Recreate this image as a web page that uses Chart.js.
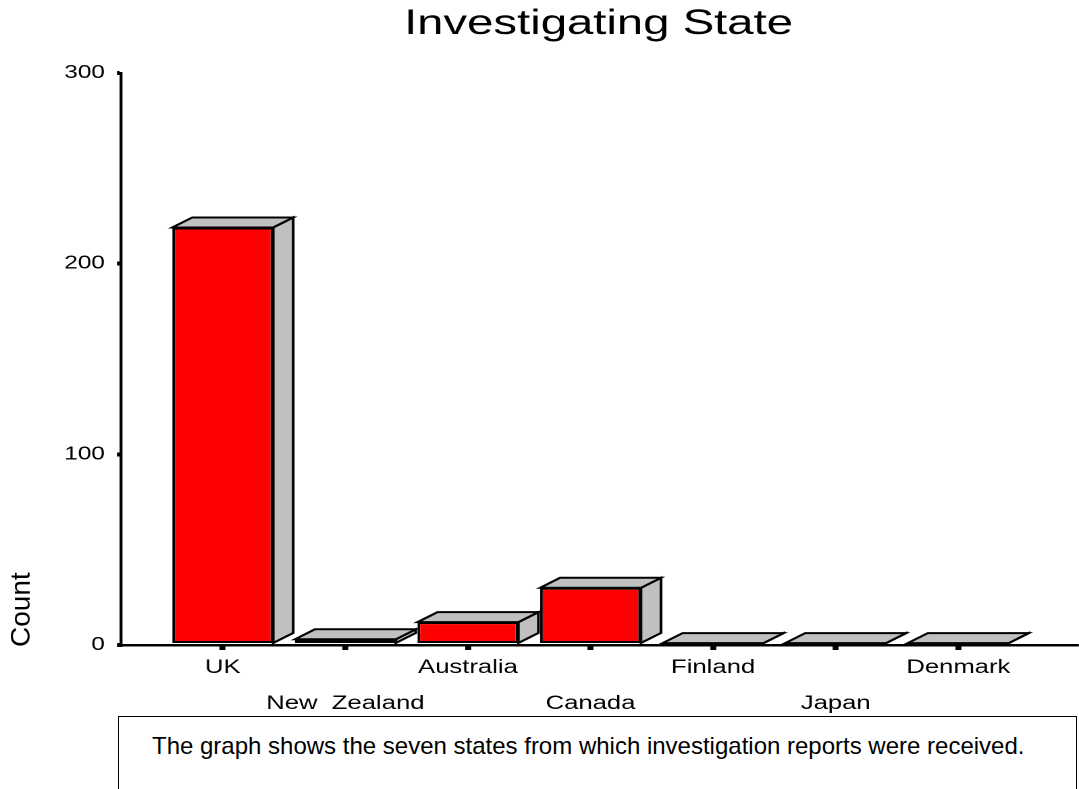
<!DOCTYPE html>
<html>
<head>
<meta charset="utf-8">
<script src="https://cdn.jsdelivr.net/npm/chart.js@4/dist/chart.umd.min.js"></script>
<style>
  html, body { margin: 0; padding: 0; background: #fff; overflow: hidden; }
  #wrap { position: relative; width: 1079px; height: 789px; }
  #plot { position: absolute; left: 0; top: 0; width: 799px; height: 715px;
          transform: scaleX(1.35044); transform-origin: 0 0; }
  #note {
    position: absolute; left: 118px; top: 716px; width: 959px; height: 120px;
    border: 1px solid #000; box-sizing: border-box;
    font-family: "Liberation Sans", Arial, sans-serif; font-size: 24px;
    line-height: 28px; color: #000; padding: 15px 0 0 33px; white-space: nowrap;
  }
</style>
</head>
<body>
<div id="wrap">
  <div id="plot"><canvas id="chart" width="799" height="715"></canvas></div>
  <div id="note">The graph shows the seven states from which investigation reports were received.</div>
</div>
<script>
// Reports received per investigating state
const categories = ['UK', 'New  Zealand', 'Australia', 'Canada', 'Finland', 'Japan', 'Denmark'];
const counts = [219, 3, 12, 30, 1, 1, 1];
const yTicks = [0, 100, 200, 300];

// The chart is laid out on a narrower canvas and widened horizontally by CSS.
const STRETCH = 1079 / 799;
const FONT = '"Liberation Sans", Arial, sans-serif';
const RED = '#ff0000';
const GREY = '#c0c0c0';

// Grey top and right side faces behind each red bar front
const blockFaces = {
  id: 'blockFaces',
  beforeDatasetsDraw(chart) {
    const ctx = chart.ctx;
    const dx = 20 / STRETCH, dy = 10;
    ctx.save();
    ctx.fillStyle = GREY;
    ctx.strokeStyle = '#000';
    ctx.lineWidth = 2;
    ctx.lineJoin = 'miter';
    chart.getDatasetMeta(0).data.forEach(bar => {
      const l = bar.x - bar.width / 2, r = bar.x + bar.width / 2;
      const t = bar.y, b = bar.base;
      // side
      ctx.beginPath();
      ctx.moveTo(r, t); ctx.lineTo(r + dx, t - dy); ctx.lineTo(r + dx, b - dy); ctx.lineTo(r, b);
      ctx.closePath(); ctx.fill(); ctx.stroke();
      // top
      ctx.beginPath();
      ctx.moveTo(l, t); ctx.lineTo(l + dx, t - dy); ctx.lineTo(r + dx, t - dy); ctx.lineTo(r, t);
      ctx.closePath(); ctx.fill(); ctx.stroke();
    });
    ctx.restore();
  }
};

// Vertical axis caption, drawn without the horizontal widening
const countLabel = {
  id: 'countLabel',
  afterDraw(chart) {
    const ctx = chart.ctx;
    ctx.save();
    ctx.translate(22 / STRETCH, chart.chartArea.bottom + 2);
    ctx.scale(1 / STRETCH, 1);
    ctx.rotate(-Math.PI / 2);
    ctx.font = '28px ' + FONT;
    ctx.fillStyle = '#000';
    ctx.textAlign = 'left';
    ctx.textBaseline = 'middle';
    ctx.fillText('Count', 0, 0);
    ctx.restore();
  }
};

new Chart(document.getElementById('chart'), {
  type: 'bar',
  data: {
    datasets: [{
      label: 'Count',
      data: counts.map((v, i) => ({ x: i, y: v })),
      backgroundColor: RED,
      borderColor: '#000',
      borderWidth: 2,
      borderSkipped: false,
      barPercentage: 0.823,
      categoryPercentage: 1
    }]
  },
  options: {
    responsive: false,
    devicePixelRatio: 2,
    animation: false,
    layout: { padding: { left: 0, right: 799 - 1076 / STRETCH, top: 0, bottom: 0 } },
    plugins: {
      legend: { display: false },
      tooltip: { enabled: false },
      title: {
        display: true,
        text: 'Investigating State',
        fullSize: false,
        color: '#000',
        font: { family: FONT, size: 35, weight: 'normal', lineHeight: 1 },
        padding: { top: 7, bottom: 31 }
      }
    },
    scales: {
      x: {
        type: 'linear',
        offset: false,
        min: -0.83,
        max: 6.96,
        afterBuildTicks: s => { s.ticks = categories.map((_, i) => ({ value: i })); },
        afterFit: s => { s.height = 70; },
        border: { display: true, color: '#000', width: 2.5 },
        grid: { display: true, offset: false, drawOnChartArea: false, drawTicks: true, tickLength: 5, lineWidth: 4.4, color: '#000' },
        ticks: {
          autoSkip: false,
          maxRotation: 0,
          minRotation: 0,
          padding: 0,
          color: '#000',
          font: { family: FONT, size: 19, lineHeight: 36 / 19 },
          callback: v => (v % 2 === 0 ? [categories[v]] : ['', categories[v]])
        }
      },
      y: {
        min: 0,
        max: 300,
        afterBuildTicks: s => { s.ticks = yTicks.map(v => ({ value: v })); },
        afterFit: s => { s.width = 121 / STRETCH; },
        border: { display: true, color: '#000', width: 2.2 },
        grid: { display: true, drawOnChartArea: false, drawTicks: true, tickLength: 3, lineWidth: 4, color: '#000' },
        ticks: {
          padding: 9,
          color: '#000',
          font: { family: FONT, size: 18 }
        }
      }
    }
  },
  plugins: [blockFaces, countLabel]
});
</script>
</body>
</html>
